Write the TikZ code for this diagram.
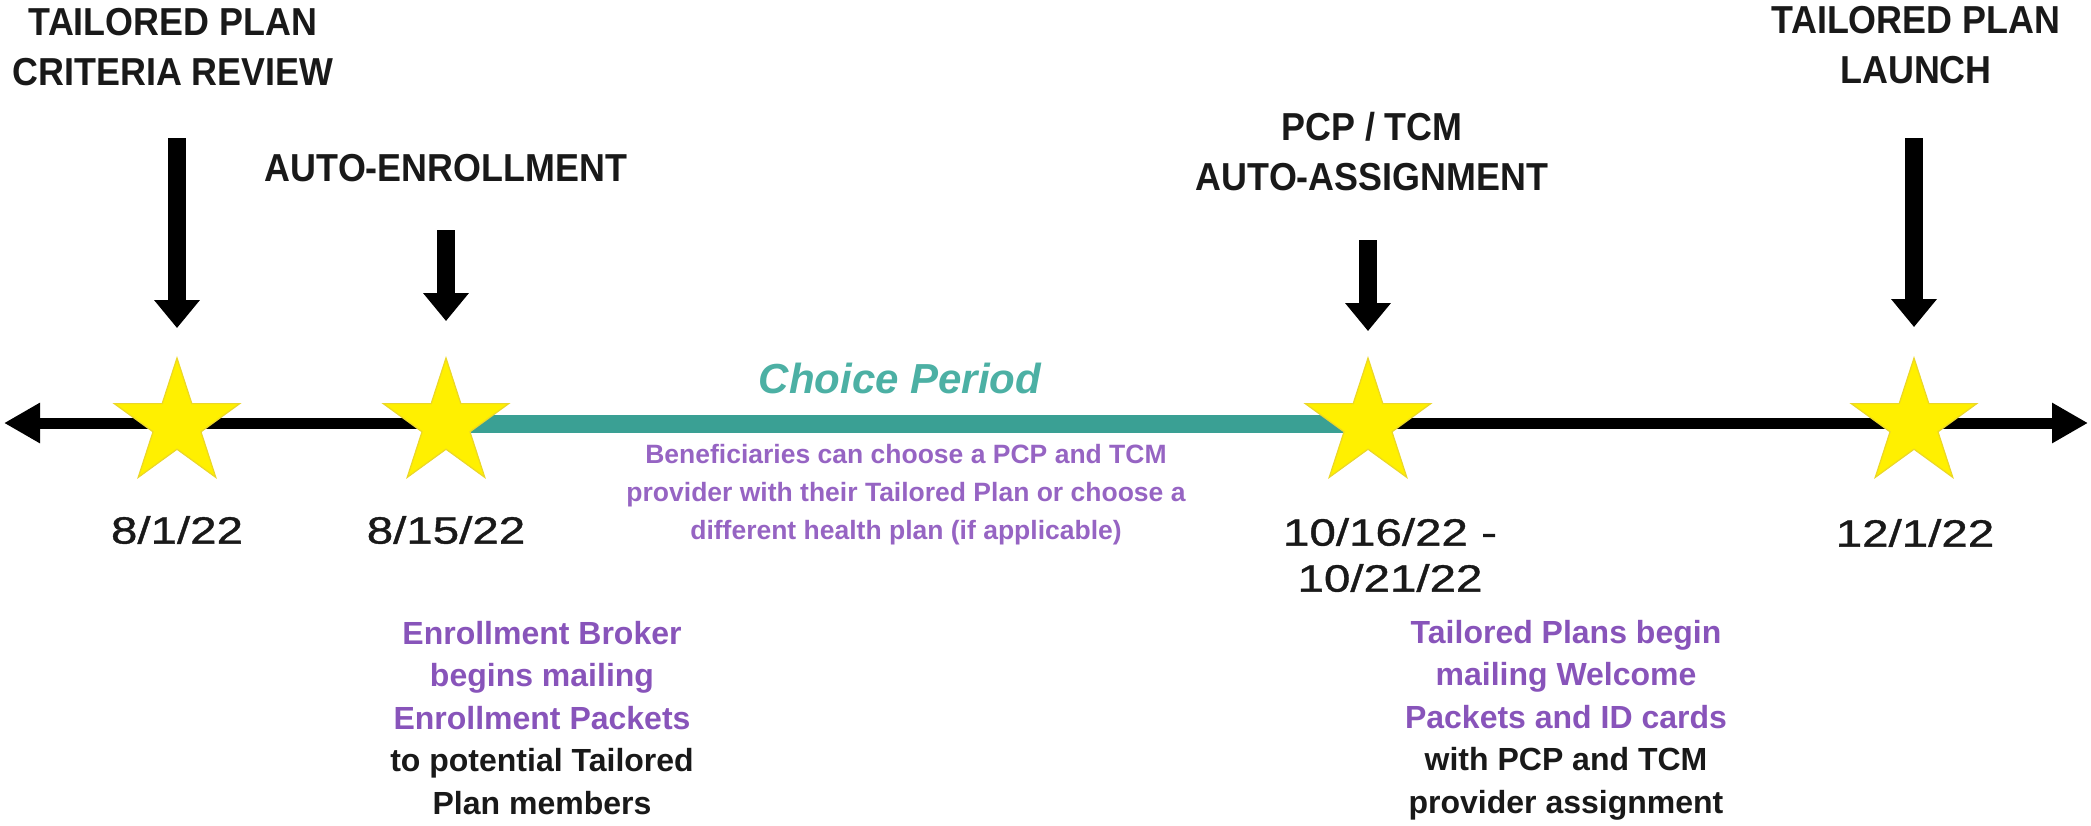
\documentclass[tikz,border=0pt]{standalone}
\usepackage{fontspec}
\setmainfont{Liberation Sans}
\newfontfamily\labfont{Liberation Sans}[FakeStretch=0.92]
\newfontfamily\datefont{Liberation Sans}[FakeStretch=1.25,FakeBold=1]
\usetikzlibrary{shapes.geometric,arrows.meta,backgrounds}
\definecolor{tyellow}{RGB}{255,240,0}
\definecolor{tyedge}{RGB}{235,215,40}
\definecolor{tteal}{RGB}{58,160,148}
\definecolor{tteallight}{RGB}{76,176,164}
\definecolor{tpurple}{RGB}{136,84,186}
\definecolor{tpurplelight}{RGB}{150,100,195}
\definecolor{tink}{RGB}{25,25,25}
\begin{document}
\begin{tikzpicture}[x=0.5pt,y=-0.5pt,
  starnode/.style={star, star points=5, star point ratio=2.618, minimum size=66pt, inner sep=0pt, fill=tyellow, draw=tyedge, line width=0.6pt},
  timeline/.style={line width=5.5pt, draw=black, {Triangle[length=18pt,width=19pt]}-{Triangle[length=18pt,width=19pt]}},
  choicebar/.style={line width=9pt, draw=tteal},
  downarrow/.style={line width=9pt, draw=black, -{Triangle[length=14pt,width=22pt]}},
  toplabel/.style={align=center, text=tink, font=\labfont\bfseries\fontsize{19.5pt}{25pt}\selectfont, inner sep=0pt},
  datelabel/.style={align=center, text=tink, font=\datefont\fontsize{19pt}{23pt}\selectfont, inner sep=0pt},
  notetext/.style={align=center, text=tink, font=\bfseries\fontsize{16pt}{21.25pt}\selectfont, inner sep=0pt},
  choicenote/.style={align=center, text=tpurplelight, font=\bfseries\fontsize{13.25pt}{19pt}\selectfont, inner sep=0pt},
  choicetitle/.style={text=tteallight, font=\bfseries\itshape\fontsize{21pt}{25pt}\selectfont, inner sep=0pt},
]
\useasboundingbox (0,0) rectangle (2091,825);

% stars
\node[starnode] (s1) at (177,424) {};
\node[starnode] (s2) at (446,424) {};
\node[starnode] (s3) at (1368,424) {};
\node[starnode] (s4) at (1914,424) {};

% timeline ends
\coordinate (tl) at (4,423);
\coordinate (tr) at (2088,423);

\begin{pgfonlayer}{background}
\draw[timeline] (tl) -- (tr);
\draw[choicebar] (s2.center) -- (s3.center);
\end{pgfonlayer}

% top labels
\node[toplabel] (l1) at (173,47) {TAILORED PLAN\\CRITERIA REVIEW};
\node[toplabel] (l2) at (446,168) {AUTO-ENROLLMENT};
\node[toplabel] (l3) at (1372,152) {PCP / TCM\\AUTO-ASSIGNMENT};
\node[toplabel] (l4) at (1916,45) {TAILORED PLAN\\LAUNCH};

% arrow starts
\coordinate (a1) at (177,138);
\coordinate (a2) at (446,230);
\coordinate (a3) at (1368,240);
\coordinate (a4) at (1914,138);

\draw[downarrow, shorten >=14pt] (a1) -- (s1);
\draw[downarrow, shorten >=17.5pt] (a2) -- (s2);
\draw[downarrow, shorten >=12.5pt] (a3) -- (s3);
\draw[downarrow, shorten >=14.5pt] (a4) -- (s4);

% dates
\node[datelabel] (d1) at (177,530) {8/1/22};
\node[datelabel] (d2) at (446,530) {8/15/22};
\node[datelabel] (d3) at (1390,555) {10/16/22 -\\10/21/22};
\node[datelabel] (d4) at (1915,533) {12/1/22};

% choice period
\node[choicetitle] (cp) at (900,378) {Choice Period};
\node[choicenote] (cn) at (906,495) {Beneficiaries can choose a PCP and TCM\\provider with their Tailored Plan or choose a\\different health plan (if applicable)};

% lower notes
\node[notetext] (n1) at (542,718) {{\color{tpurple}Enrollment Broker}\\{\color{tpurple}begins mailing}\\{\color{tpurple}Enrollment Packets}\\to potential Tailored\\Plan members};
\node[notetext] (n2) at (1566,720) {{\color{tpurple}Tailored Plans begin}\\{\color{tpurple}mailing Welcome}\\{\color{tpurple}Packets and ID cards}\\with PCP and TCM\\provider assignment};
\end{tikzpicture}
\end{document}
